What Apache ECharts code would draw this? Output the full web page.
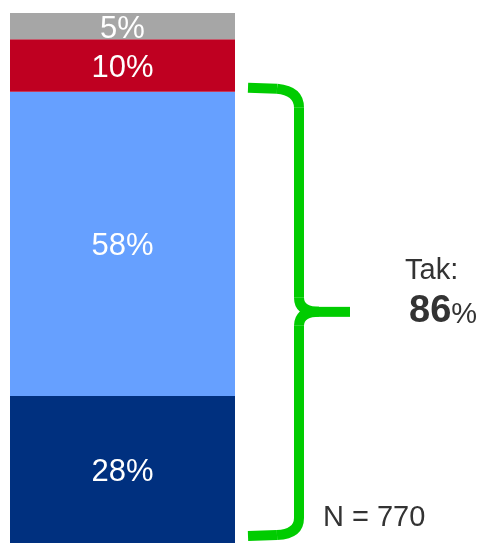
<!DOCTYPE html>
<html>
<head>
<meta charset="utf-8">
<script src="https://cdn.jsdelivr.net/npm/echarts@6/dist/echarts.min.js"></script>
<style>
  html, body { margin: 0; padding: 0; background: #fff; }
  #chart { width: 485px; height: 543px; }
</style>
</head>
<body>
<div id="chart"></div>
<script>
// Stacked shares, bottom to top
var categories = ['Q'];
var seriesNames = ['Zdecydowanie tak', 'Raczej tak', 'Nie', 'Trudno powiedzieć'];
var seriesValues = [28, 58, 10, 5];
var seriesColors = ['#00307F', '#66A0FF', '#BF0021', '#A6A6A6'];
var yesCount = 2;          // first two segments make up the "Tak" total
var sampleSize = 770;

var total = seriesValues.reduce(function (a, b) { return a + b; }, 0);
var yesTotal = seriesValues.slice(0, yesCount).reduce(function (a, b) { return a + b; }, 0);

var chart = echarts.init(document.getElementById('chart'), null, { renderer: 'canvas' });

var series = seriesValues.map(function (v, i) {
  return {
    name: seriesNames[i],
    type: 'bar',
    stack: 'total',
    barWidth: '100%',
    data: [v],
    itemStyle: { color: seriesColors[i] },
    label: {
      show: true,
      position: 'inside',
      offset: [0, 3],
      formatter: '{c}%',
      color: '#ffffff',
      fontFamily: 'Liberation Sans, Arial, sans-serif',
      fontSize: 31
    },
    emphasis: { disabled: true }
  };
});

chart.setOption({
  animation: false,
  grid: { left: 10, top: 13, width: 225, bottom: 0 },
  xAxis: {
    type: 'category',
    data: categories,
    show: false
  },
  yAxis: {
    type: 'value',
    min: 0,
    max: total,
    show: false
  },
  series: series
});

// Curly brace spanning the "Tak" segments, plus annotations
var yTop = chart.convertToPixel({ yAxisIndex: 0 }, yesTotal) - 4;
var yBot = chart.convertToPixel({ yAxisIndex: 0 }, 0) - 7;
var yMid = (yTop + yBot) / 2;
var xL = 248, xV = 299, xTip = 350;

var braceStyle = { stroke: '#00CC00', lineWidth: 10, fill: 'none', lineCap: 'butt' };

function seg(x1, y1, x2, y2) {
  return { type: 'line', silent: true, shape: { x1: x1, y1: y1, x2: x2, y2: y2 }, style: braceStyle };
}
function curve(x1, y1, cx, cy, x2, y2) {
  return {
    type: 'bezierCurve', silent: true,
    shape: { x1: x1, y1: y1, cpx1: cx, cpy1: cy, x2: x2, y2: y2 },
    style: braceStyle
  };
}

var brace = [
  seg(xL, yTop, xV - 22, yTop + 1),
  curve(xV - 22, yTop + 1, xV, yTop + 3, xV, yTop + 20),
  seg(xV, yTop + 20, xV, yMid - 14),
  curve(xV, yMid - 14, xV, yMid, xV + 20, yMid),
  seg(xV + 20, yMid, xTip, yMid),
  curve(xV + 20, yMid, xV, yMid, xV, yMid + 14),
  seg(xV, yMid + 14, xV, yBot - 18),
  curve(xV, yBot - 18, xV, yBot - 2, xV - 22, yBot - 1),
  seg(xV - 22, yBot - 1, xL, yBot)
];

var textFont = 'Liberation Sans, Arial, sans-serif';

chart.setOption({
  graphic: brace.concat([
    {
      type: 'text',
      left: 405, top: 256,
      style: { text: 'Tak:', fill: '#333333', font: '29px ' + textFont }
    },
    {
      type: 'text',
      left: 409, top: 293,
      style: {
        text: '{b|' + yesTotal + '}{p|%}',
        rich: {
          b: { fill: '#333333', fontSize: 38, fontWeight: 'bold', fontFamily: textFont },
          p: { fill: '#333333', fontSize: 29, fontFamily: textFont, padding: [6, 0, 0, 0] }
        }
      }
    },
    {
      type: 'text',
      left: 323, top: 503,
      style: { text: 'N = ' + sampleSize, fill: '#333333', font: '29px ' + textFont }
    }
  ])
});
</script>
</body>
</html>
